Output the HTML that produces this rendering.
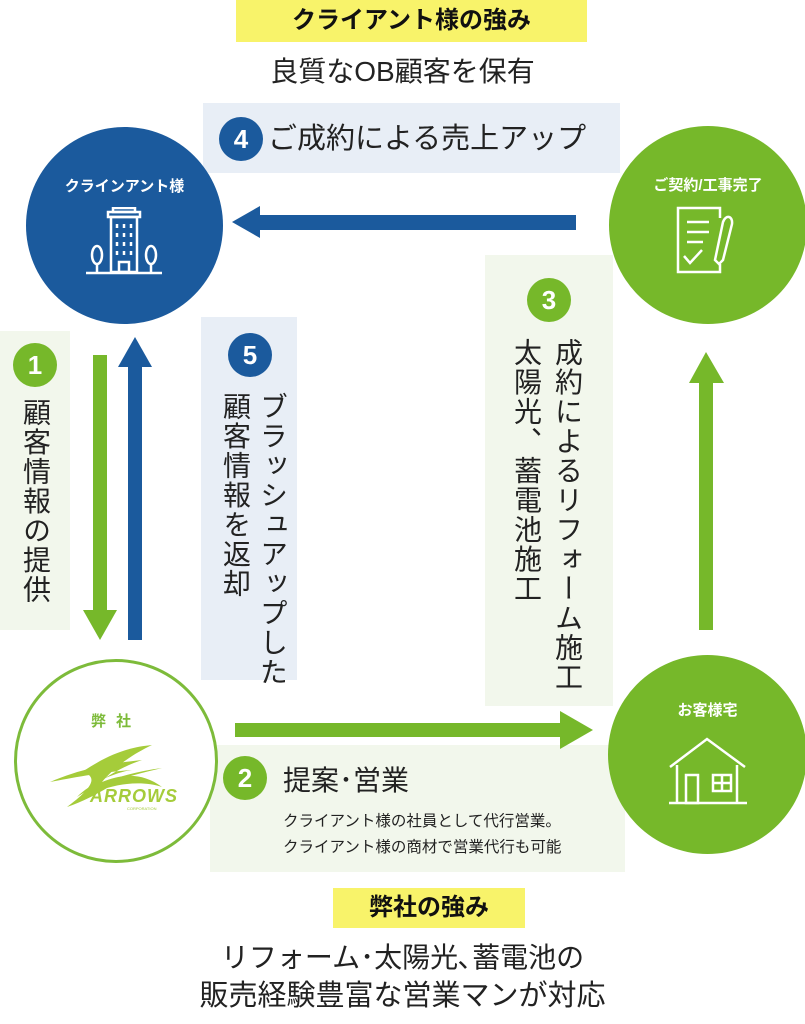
<!DOCTYPE html>
<html><head><meta charset="utf-8"><style>
*{margin:0;padding:0;box-sizing:border-box}
body{width:805px;height:1024px;background:#fff;position:relative;overflow:hidden;font-family:"Liberation Sans","Noto Sans CJK JP",sans-serif;color:#222}
.a{position:absolute}
.lb{background:#e8eef6}
.lg{background:#f2f7ec}
.num{position:absolute;width:44px;height:44px;border-radius:50%;color:#fff;font-weight:bold;font-size:26px;line-height:44px;text-align:center;font-family:"Liberation Sans",sans-serif}
.bl{background:#1b5a9d}.gr{background:#76b82a}
.v{position:absolute;writing-mode:vertical-rl;font-size:28px;line-height:28px;width:28px;letter-spacing:1.5px;white-space:nowrap}
.c{position:absolute;border-radius:50%}
.ct{position:absolute;width:100%;text-align:center;color:#fff;font-weight:bold;font-size:15px}
</style></head><body>
<div class="a" style="left:236px;top:0;width:351px;height:42px;background:#f8f36a"></div>
<div class="a" style="left:236px;top:0;width:351px;height:42px;line-height:42px;text-align:center;font-size:24px;font-weight:bold;color:#111">クライアント様の強み</div>
<div class="a" style="left:0;top:52px;width:805px;text-align:center;font-size:28px;line-height:40px">良質なOB顧客を保有</div>

<div class="a lb" style="left:203px;top:103px;width:417px;height:70px"></div>
<div class="num bl" style="left:219px;top:117px">4</div>
<div class="a" style="left:268px;top:119px;font-size:29px;line-height:40px">ご成約による売上アップ</div>

<div class="a lg" style="left:0;top:331px;width:70px;height:299px"></div>
<div class="num gr" style="left:13px;top:343px">1</div>
<div class="v" style="left:21px;top:398px">顧客情報の提供</div>

<div class="a lb" style="left:201px;top:317px;width:96px;height:363px"></div>
<div class="num bl" style="left:228px;top:333px">5</div>
<div class="v" style="left:258px;top:392px">ブラッシュアップした</div>
<div class="v" style="left:221px;top:392px">顧客情報を返却</div>

<div class="a lg" style="left:485px;top:255px;width:128px;height:451px"></div>
<div class="num gr" style="left:527px;top:278px">3</div>
<div class="v" style="left:553px;top:338px">成約によるリフォーム施工</div>
<div class="v" style="left:512px;top:338px">太陽光、蓄電池施工</div>

<div class="a lg" style="left:210px;top:745px;width:415px;height:127px"></div>
<div class="num gr" style="left:223px;top:756px">2</div>
<div class="a" style="left:283px;top:761px;font-size:28px;line-height:40px">提案･営業</div>
<div class="a" style="left:283px;top:809px;font-size:15.5px;line-height:26px">クライアント様の社員として代行営業。<br>クライアント様の商材で営業代行も可能</div>

<svg class="a" style="left:0;top:0" width="805" height="1024">
<g fill="#1b5a9d">
<rect x="256" y="215" width="320" height="15"/><polygon points="232,222 260,206 260,238"/>
<rect x="128" y="365" width="14" height="275"/><polygon points="135,337 118,367 152,367"/>
</g>
<g fill="#76b82a">
<rect x="93" y="355" width="14" height="258"/><polygon points="100,640 83,610 117,610"/>
<rect x="235" y="723" width="327" height="14"/><polygon points="593,730 560,711 560,749"/>
<rect x="699" y="380" width="14" height="250"/><polygon points="706,352 689,383 724,383"/>
</g>
</svg>

<div class="c bl" style="left:26px;top:127px;width:197px;height:197px"><div class="ct" style="top:48px">クラインアント様</div>
<svg class="a" style="left:58px;top:80px" width="80" height="70" fill="none" stroke="#fff" stroke-width="2.5">
<rect x="27" y="10" width="26" height="55"/><rect x="24" y="5" width="32" height="5"/><rect x="29" y="1" width="22" height="4"/>
<path d="M33 17v4M40 17v4M47 17v4M33 26v4M40 26v4M47 26v4M33 35v4M40 35v4M47 35v4M33 44v4M40 44v4M47 44v4"/><rect x="35" y="55" width="10" height="10"/>
<ellipse cx="13" cy="48" rx="5" ry="9"/><path d="M13 57v8M67 57v8"/><ellipse cx="67" cy="48" rx="5" ry="9"/><path d="M2 66h76"/></svg></div>

<div class="c gr" style="left:609px;top:126px;width:198px;height:198px"><div class="ct" style="top:48px">ご契約/工事完了</div>
<svg class="a" style="left:66px;top:78px" width="70" height="72" fill="none" stroke="#fff" stroke-width="2.5">
<path d="M45 14V4H3v64h42v-8"/><path d="M12 18h22M12 28h22M12 38h16"/><path d="M9 52l6 7 12-13"/><path d="M40 56l8-38c3-8 10-6 9 2l-9 36-4 4z"/></svg></div>

<div class="c gr" style="left:608px;top:655px;width:199px;height:199px"><div class="ct" style="top:44px">お客様宅</div>
<svg class="a" style="left:59px;top:80px" width="82" height="72" fill="none" stroke="#fff" stroke-width="2.5">
<path d="M3 32L40 4l38 28"/><path d="M10 30v38M70 30v38M2 68h78"/><rect x="19" y="40" width="12" height="28"/><rect x="46" y="40" width="18" height="16"/><path d="M55 40v16M46 48h18"/></svg></div>

<div class="c" style="left:14px;top:659px;width:204px;height:204px;border:3px solid #7dbb3a;background:#fff"><div class="ct" style="top:48px;color:#7dbb3a;letter-spacing:10px">弊社</div>
<svg class="a" style="left:15px;top:80px" width="180" height="80">
<path d="M18 40C60 22 95 20 110 18C80 28 60 45 45 58C70 40 105 32 130 26C100 30 70 38 45 55C60 40 85 30 100 28C70 30 40 36 18 40Z" fill="#a5cc3a"/>
<path d="M50 30C80 10 100 5 120 3C95 15 80 28 70 40C90 32 110 30 130 45C115 40 95 40 75 46C65 52 50 60 35 65C55 50 70 35 50 30Z" fill="#a5cc3a"/>
<text x="58" y="60" font-family="Liberation Sans" font-weight="bold" font-style="italic" font-size="18" fill="#a5cc3a" letter-spacing="1">ARROWS</text>
<text x="95" y="68" font-family="Liberation Sans" font-size="4" fill="#a5cc3a">CORPORATION</text></svg></div>

<div class="a" style="left:333px;top:888px;width:192px;height:40px;background:#f8f36a;text-align:center;line-height:40px;font-size:24px;font-weight:bold;color:#111">弊社の強み</div>
<div class="a" style="left:0;top:938px;width:805px;text-align:center;font-size:28px;line-height:40px">リフォーム･太陽光､蓄電池の</div>
<div class="a" style="left:0;top:976px;width:805px;text-align:center;font-size:29px;line-height:40px">販売経験豊富な営業マンが対応</div>
</body></html>
